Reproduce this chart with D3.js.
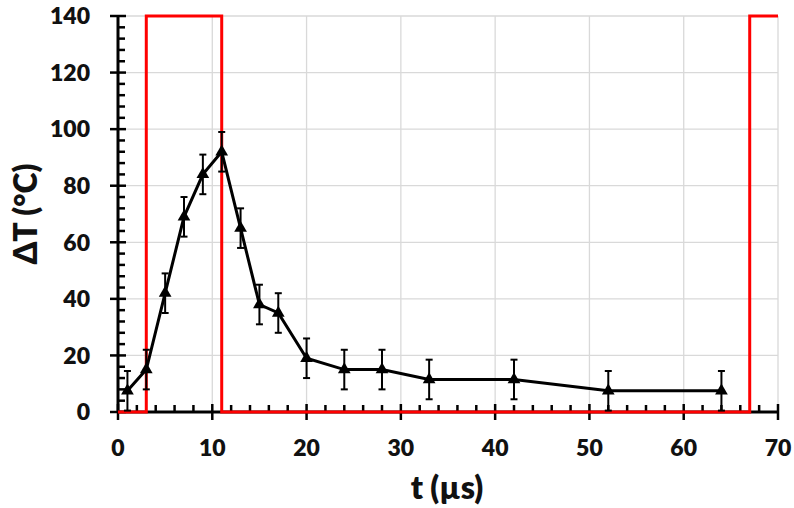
<!DOCTYPE html>
<html><head><meta charset="utf-8">
<script src="https://cdn.jsdelivr.net/npm/d3@7"></script>
<style>html,body{margin:0;padding:0;background:#fff;}</style>
</head><body>
<svg id="c" width="794" height="508"></svg>
<script>
const tValues = [1, 3, 5, 7, 9, 11, 13, 15, 17, 20, 24, 28, 33, 42, 52, 64];
const dTValues = [7.5, 15, 42, 69, 84, 92, 65, 38, 35, 19, 15, 15, 11.5, 11.5, 7.5, 7.5];
const errValues = [7, 7, 7, 7, 7, 7, 7, 7, 7, 7, 7, 7, 7, 7, 7, 7];
const pulseT = [0, 3, 3, 11, 11, 67, 67, 70];
const pulseV = [0, 0, 140, 140, 0, 0, 140, 140];
const xTicks = [0, 10, 20, 30, 40, 50, 60, 70];
const yTicks = [0, 20, 40, 60, 80, 100, 120, 140];

const svg = d3.select("#c");
const L = 118, R = 778, T = 16, B = 412;
const x = d3.scaleLinear().domain([0, 70]).range([L, R]);
const y = d3.scaleLinear().domain([0, 140]).range([B, T]);
const font = "Lato, 'Open Sans', sans-serif";

// grid
svg.append("g").selectAll("line").data(yTicks.slice(1)).join("line")
  .attr("x1", L).attr("x2", R).attr("y1", d => y(d)).attr("y2", d => y(d))
  .attr("stroke", "#d9d9d9").attr("stroke-width", 1.3);
svg.append("g").selectAll("line").data(xTicks.slice(1)).join("line")
  .attr("y1", T).attr("y2", B).attr("x1", d => x(d)).attr("x2", d => x(d))
  .attr("stroke", "#d9d9d9").attr("stroke-width", 1.3);

// axes
const yMinor = d3.range(0, 141, 4).filter(v => v % 20 !== 0);
const xMinor = d3.range(0, 71, 2).filter(v => v % 10 !== 0);
const ax = svg.append("g");
ax.selectAll(".ym").data(yMinor).join("line")
  .attr("x1", L).attr("x2", L + 7).attr("y1", d => y(d)).attr("y2", d => y(d))
  .attr("stroke", "#000").attr("stroke-width", 2.5);
ax.selectAll(".yM").data(yTicks).join("line")
  .attr("x1", L - 8).attr("x2", L + 8).attr("y1", d => y(d)).attr("y2", d => y(d))
  .attr("stroke", "#000").attr("stroke-width", 2.5);
ax.selectAll(".xm").data(xMinor).join("line")
  .attr("y1", B).attr("y2", B - 7).attr("x1", d => x(d)).attr("x2", d => x(d))
  .attr("stroke", "#000").attr("stroke-width", 2.5);
ax.selectAll(".xM").data(xTicks).join("line")
  .attr("y1", B - 8).attr("y2", B + 8).attr("x1", d => x(d)).attr("x2", d => x(d))
  .attr("stroke", "#000").attr("stroke-width", 2.5);
ax.append("line").attr("x1", L).attr("x2", L).attr("y1", T).attr("y2", B)
  .attr("stroke", "#000").attr("stroke-width", 3);
ax.append("line").attr("x1", L).attr("x2", R).attr("y1", B).attr("y2", B)
  .attr("stroke", "#000").attr("stroke-width", 3);

// tick labels
svg.append("g").selectAll("text").data(yTicks).join("text")
  .attr("x", 90).attr("y", d => y(d)).attr("dy", "0.36em")
  .attr("text-anchor", "end").attr("font-family", font).attr("font-weight", 800)
  .attr("font-size", 23).attr("fill", "#111").text(d => d);
svg.append("g").selectAll("text").data(xTicks).join("text")
  .attr("x", d => x(d)).attr("y", 456)
  .attr("text-anchor", "middle").attr("font-family", font).attr("font-weight", 800)
  .attr("font-size", 23).attr("fill", "#111").text(d => d);

// titles
svg.append("text").attr("x", 447).attr("y", 499).attr("text-anchor", "middle")
  .attr("font-family", font).attr("font-weight", 800).attr("font-size", 32).attr("fill", "#111")
  .text("t (µs)");
svg.append("text").attr("transform", "translate(37,214) rotate(-90)").attr("text-anchor", "middle")
  .attr("font-family", font).attr("font-weight", 800).attr("font-size", 32).attr("fill", "#111")
  .text("ΔT (°C)");

// pulse
const pulse = pulseT.map((t, i) => [t, pulseV[i]]);
svg.append("path").datum(pulse)
  .attr("d", d3.line().x(d => x(d[0])).y(d => y(d[1])))
  .attr("fill", "none").attr("stroke", "#ff0000").attr("stroke-width", 3);

// data
const data = tValues.map((t, i) => ({t, v: dTValues[i], e: errValues[i]}));
const eb = svg.append("g").attr("stroke", "#000").attr("stroke-width", 2);
eb.selectAll(".v").data(data).join("line")
  .attr("x1", d => x(d.t)).attr("x2", d => x(d.t))
  .attr("y1", d => y(d.v + d.e)).attr("y2", d => y(d.v - d.e));
eb.selectAll(".c1").data(data).join("line")
  .attr("x1", d => x(d.t) - 3.5).attr("x2", d => x(d.t) + 3.5)
  .attr("y1", d => y(d.v + d.e)).attr("y2", d => y(d.v + d.e));
eb.selectAll(".c2").data(data).join("line")
  .attr("x1", d => x(d.t) - 3.5).attr("x2", d => x(d.t) + 3.5)
  .attr("y1", d => y(d.v - d.e)).attr("y2", d => y(d.v - d.e));

svg.append("path").datum(data)
  .attr("d", d3.line().x(d => x(d.t)).y(d => y(d.v)))
  .attr("fill", "none").attr("stroke", "#000").attr("stroke-width", 3);

svg.append("g").selectAll("path").data(data).join("path")
  .attr("transform", d => `translate(${x(d.t)},${y(d.v)})`)
  .attr("d", d3.symbol().type(d3.symbolTriangle).size(70))
  .attr("fill", "#000");
</script>
</body></html>
